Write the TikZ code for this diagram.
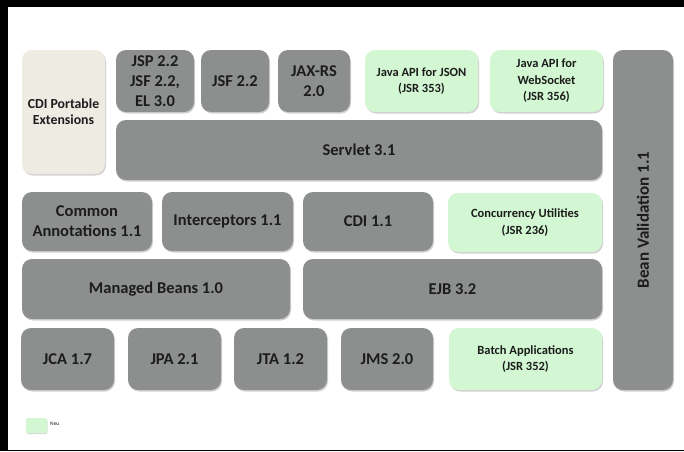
\documentclass[tikz,border=0pt]{standalone}
\usepackage{fontspec}
\setmainfont{Carlito}
\usetikzlibrary{shadows}
\definecolor{boxgrey}{HTML}{8C8F8E}
\definecolor{newgreen}{HTML}{D2F7D2}
\definecolor{cdibeige}{HTML}{EEEBE3}
\definecolor{txt}{HTML}{1C1C1C}
\tikzset{
  blk/.style={draw=none, rounded corners=10pt, inner sep=2pt, align=center,
    text=txt, font=\bfseries\fontsize{16.5}{20}\selectfont,
    drop shadow={shadow xshift=1pt, shadow yshift=-1.5pt, opacity=0.18, fill=black}},
  greyblk/.style={blk, fill=boxgrey},
  greenblk/.style={blk, fill=newgreen, font=\bfseries\fontsize{12.5}{16.5}\selectfont},
  beigeblk/.style={blk, fill=cdibeige, font=\bfseries\fontsize{13.8}{16}\selectfont},
}
\newcommand\blk[7]{\node[#6, minimum width={#4-#2}, minimum height={#5-#3}] (#1) at ({(#2+#4)/2},{(#3+#5)/2}) {#7};}
\begin{document}
\begin{tikzpicture}[x=1pt,y=-1pt]
\useasboundingbox (0,0) rectangle (684,451);
\fill[white] (0,0) rectangle (684,451);
\fill[black] (0,0) rectangle (684,7);
\fill[black] (0,0) rectangle (8,451);
\fill[black] (0,449.5) rectangle (684,451);
% top row
\blk{cdi}{22}{50}{105}{174}{beigeblk}{CDI Portable\\Extensions}
\blk{jsp}{116}{50}{194}{112}{greyblk}{JSP 2.2\\JSF 2.2,\\EL 3.0}
\blk{jsf}{201}{50}{269}{112}{greyblk}{JSF 2.2}
\blk{jaxrs}{278}{50}{350}{112}{greyblk}{JAX-RS\\2.0}
\blk{json}{365}{50}{478}{112}{greenblk}{Java API for JSON\\(JSR 353)}
\blk{ws}{490}{50}{603}{112}{greenblk}{Java API for\\WebSocket\\(JSR 356)}
\blk{bean}{613}{50}{673}{390}{greyblk}{}
\node[text=txt, font=\bfseries\fontsize{17}{20}\selectfont, rotate=90] (beanlbl) at (bean.center) {Bean Validation 1.1};
% servlet
\blk{servlet}{116}{120}{602}{180}{greyblk}{Servlet 3.1}
% third row
\blk{common}{22}{192}{152}{251}{greyblk}{Common\\Annotations 1.1}
\blk{inter}{162}{192}{293}{251}{greyblk}{Interceptors 1.1}
\blk{cdii}{303}{192}{433}{251}{greyblk}{CDI 1.1}
\blk{conc}{448}{193}{602}{252}{greenblk}{Concurrency Utilities\\(JSR 236)}
% fourth row
\blk{mb}{22}{259}{290}{319}{greyblk}{Managed Beans 1.0}
\blk{ejb}{303}{259}{602}{319}{greyblk}{EJB 3.2}
% bottom row
\blk{jca}{21}{328}{114}{390}{greyblk}{JCA 1.7}
\blk{jpa}{128}{328}{221}{390}{greyblk}{JPA 2.1}
\blk{jta}{234}{328}{327}{390}{greyblk}{JTA 1.2}
\blk{jms}{341}{328}{433}{390}{greyblk}{JMS 2.0}
\blk{batch}{449}{328}{602}{390}{greenblk}{Batch Applications\\(JSR 352)}
% legend
\node[fill=newgreen, rounded corners=2pt, minimum width=21pt, minimum height=15pt, inner sep=0pt,
  drop shadow={shadow xshift=0.5pt, shadow yshift=-1pt, opacity=0.15, fill=black}] (leg) at (36.5,425.5) {};
\node[anchor=west, text=txt, font=\fontsize{5.5}{6}\selectfont, inner sep=0pt] (neu) at (50,423.5) {Neu};
\end{tikzpicture}
\end{document}
